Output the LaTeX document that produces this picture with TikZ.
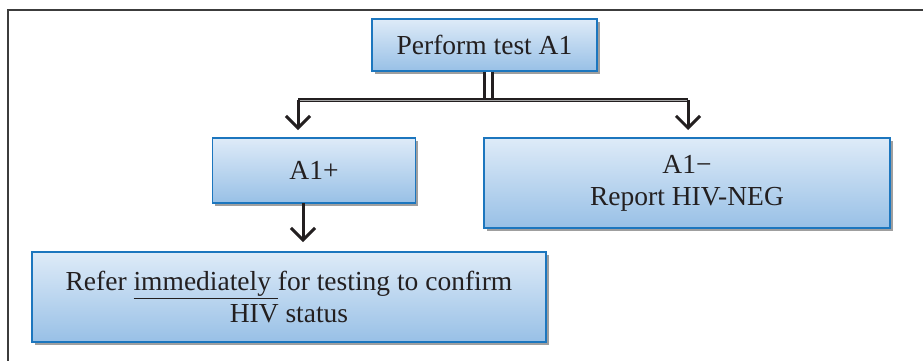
\documentclass[tikz,border=0pt]{standalone}
\usepackage{fontspec}
\setmainfont{Liberation Serif}
\newfontfamily\boxfont{Liberation Serif}
\usetikzlibrary{arrows.meta,shadows,calc}

\definecolor{boxtop}{RGB}{222,235,248}
\definecolor{boxbot}{RGB}{152,192,230}
\definecolor{boxline}{RGB}{28,118,190}
\definecolor{ink}{RGB}{35,31,32}
\definecolor{framegray}{RGB}{60,60,60}

\tikzset{
  flowbox/.style={rectangle, draw=boxline, line width=1.3pt,
    top color=boxtop, bottom color=boxbot,
    drop shadow={shadow xshift=2.5pt, shadow yshift=-3pt, fill=gray!75, opacity=1},
    text=ink, align=center, inner sep=0pt,
    font=\boxfont\fontsize{27.5}{32}\selectfont},
  stemline/.style={draw=ink, line width=3pt, double=white, double distance=5pt},
  barline/.style={draw=ink, line width=2pt, double=gray!70, double distance=0.8pt},
  downarrow/.style={draw=ink, line width=3pt,
    -{Straight Barb[length=12pt,width=24pt,line width=3pt]}},
}

\begin{document}
\begin{tikzpicture}[x=1pt,y=-1pt]
  \clip (0,0) rectangle (923,360);
  \fill[white] (0,0) rectangle (923,360);

  % outer frame, running off the right and bottom edges
  \draw[framegray, line width=2pt] (940,10) -- (8,10) -- (8,380);

  % boxes
  \node[flowbox, minimum width=225pt, minimum height=52pt] (test) at (484.5,45) {Perform test A1};
  \node[flowbox, minimum width=203pt, minimum height=65pt] (pos) at (314,170.5) {A1+};
  \node[flowbox, minimum width=406pt, minimum height=90pt] (neg) at (687,183) {A1−\\Report HIV-NEG};
  \node[flowbox, minimum width=514pt, minimum height=90pt] (refer) at (289,297)
    {Refer \underline{immediately\ }for testing to confirm\\HIV status};

  % branch points
  \coordinate (hub) at (488,100);
  \coordinate (bl) at (298,100);
  \coordinate (br) at (688,100);
  \coordinate (tipl) at (298,130);
  \coordinate (tipr) at (688,130);
  \coordinate (posout) at (303,203);
  \coordinate (tipb) at (303,242);

  % connectors
  \draw[stemline] (test.south -| hub) -- (hub);
  \draw[barline] (bl) -- (br);
  \draw[downarrow] (bl) -- (tipl);
  \draw[downarrow] (br) -- (tipr);
  \draw[downarrow] (posout) -- (tipb);
\end{tikzpicture}
\end{document}
